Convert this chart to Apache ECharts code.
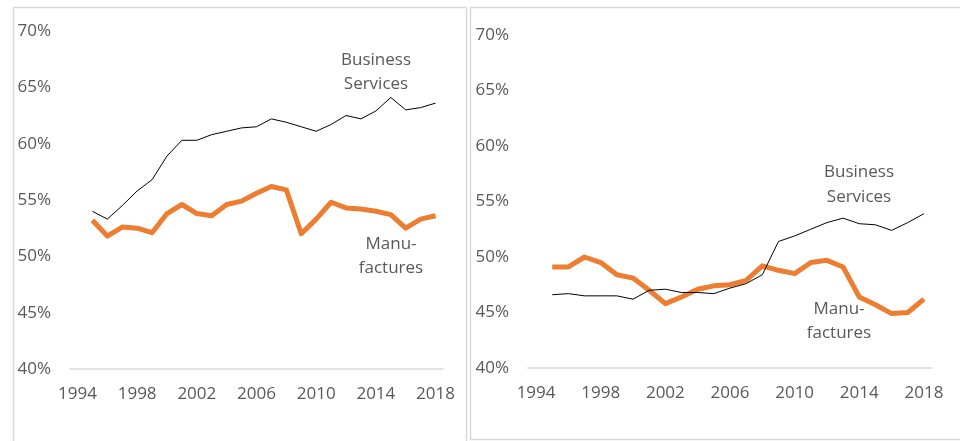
<!DOCTYPE html>
<html>
<head>
<meta charset="utf-8">
<script src="https://cdn.jsdelivr.net/npm/echarts@6/dist/echarts.min.js"></script>
<style>
html,body{margin:0;padding:0;background:#fff;}
#c{width:960px;height:441px;}
</style>
</head>
<body>
<div id="c"></div>
<script>
const years = ['1994','1995','1996','1997','1998','1999','2000','2001','2002','2003','2004','2005','2006','2007','2008','2009','2010','2011','2012','2013','2014','2015','2016','2017','2018'];
const yTicks = [40, 45, 50, 55, 60, 65, 70];

// Left panel
const leftBusiness = [null, 54.0, 53.3, 54.5, 55.8, 56.8, 58.9, 60.3, 60.3, 60.8, 61.1, 61.4, 61.5, 62.2, 61.9, 61.5, 61.1, 61.7, 62.5, 62.2, 62.9, 64.1, 63.0, 63.2, 63.6];
const leftManuf = [null, 53.2, 51.8, 52.6, 52.5, 52.1, 53.8, 54.6, 53.8, 53.6, 54.6, 54.9, 55.6, 56.2, 55.9, 52.0, 53.3, 54.8, 54.3, 54.2, 54.0, 53.7, 52.5, 53.3, 53.6];

// Right panel
const rightBusiness = [null, 46.6, 46.7, 46.5, 46.5, 46.5, 46.2, 47.0, 47.1, 46.8, 46.8, 46.7, 47.2, 47.6, 48.4, 51.4, 51.9, 52.5, 53.1, 53.5, 53.0, 52.9, 52.4, 53.1, 53.9];
const rightManuf = [null, 49.1, 49.1, 50.0, 49.5, 48.4, 48.1, 47.0, 45.8, 46.4, 47.1, 47.4, 47.5, 47.9, 49.2, 48.8, 48.5, 49.5, 49.7, 49.1, 46.4, 45.7, 44.9, 45.0, 46.2];

const labels = {
  business: ['Business', 'Services'],
  manuf: ['Manu-', 'factures']
};

const FONT = '"Open Sans", "Noto Sans", sans-serif';
const TXT = '#595959';

function xAxis(gi) {
  return {
    type: 'category', gridIndex: gi, data: years, boundaryGap: true,
    axisLine: { lineStyle: { color: '#d9d9d9', width: 1.5 } },
    axisTick: { show: false },
    axisLabel: { interval: 3, color: TXT, fontSize: 17, fontFamily: FONT, margin: 17 }
  };
}
function yAxis(gi) {
  return {
    type: 'value', gridIndex: gi, min: 40, max: 70, interval: 5,
    axisLine: { show: false }, axisTick: { show: false }, splitLine: { show: false },
    axisLabel: { formatter: '{value}%', color: TXT, fontSize: 17, fontFamily: FONT, margin: 19 }
  };
}
function line(data, gi, color, width, z) {
  return {
    type: 'line', xAxisIndex: gi, yAxisIndex: gi, data: data,
    symbol: 'none', smooth: false, z: z,
    lineStyle: { color: color, width: width, join: 'round' },
    emphasis: { disabled: true }
  };
}
function txt(x, y, s) {
  return { type: 'text', left: x, top: y, style: { text: s, fill: TXT, font: '17px ' + FONT, textAlign: 'center' } };
}

const chart = echarts.init(document.getElementById('c'), null, { renderer: 'canvas' });
chart.setOption({
  animation: false,
  backgroundColor: '#fff',
  grid: [
    { left: 70, right: 517, top: 31, bottom: 72 },
    { left: 528, right: 28, top: 35, bottom: 73 }
  ],
  xAxis: [xAxis(0), xAxis(1)],
  yAxis: [yAxis(0), yAxis(1)],
  series: [
    line(leftBusiness, 0, '#000000', 1, 3),
    line(leftManuf, 0, '#ED7D31', 5, 2),
    line(rightBusiness, 1, '#000000', 1, 3),
    line(rightManuf, 1, '#ED7D31', 5, 2)
  ],
  graphic: [
    { type: 'rect', shape: { x: 13.5, y: 7.5, width: 453, height: 440 }, style: { fill: 'none', stroke: '#d9d9d9', lineWidth: 1.5 }, silent: true },
    { type: 'rect', shape: { x: 470.5, y: 7.5, width: 500, height: 432 }, style: { fill: 'none', stroke: '#d9d9d9', lineWidth: 1.5 }, silent: true },
    { type: 'text', x: 376, y: 48, style: { text: labels.business.join('\n'), fill: TXT, font: '17px ' + FONT, align: 'center', lineHeight: 24 } },
    { type: 'text', x: 391, y: 232, style: { text: labels.manuf.join('\n'), fill: TXT, font: '17px ' + FONT, align: 'center', lineHeight: 24 } },
    { type: 'text', x: 859, y: 160, style: { text: labels.business.join('\n'), fill: TXT, font: '17px ' + FONT, align: 'center', lineHeight: 25 } },
    { type: 'text', x: 839, y: 297, style: { text: labels.manuf.join('\n'), fill: TXT, font: '17px ' + FONT, align: 'center', lineHeight: 24 } }
  ]
});
</script>
</body>
</html>
